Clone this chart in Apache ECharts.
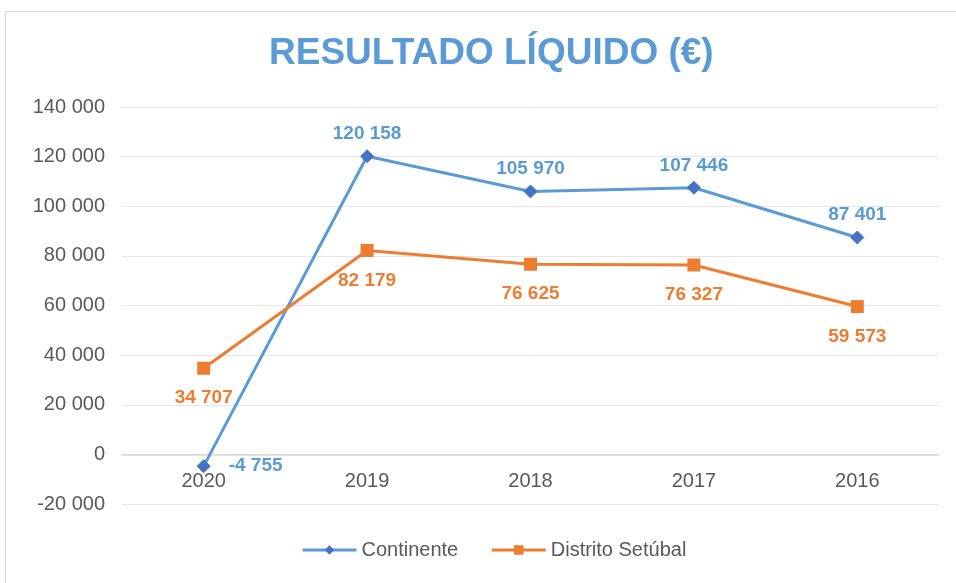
<!DOCTYPE html>
<html>
<head>
<meta charset="utf-8">
<script src="https://cdn.jsdelivr.net/npm/echarts@6/dist/echarts.min.js"></script>
<style>
  html, body { margin: 0; padding: 0; background: #fff; }
  #frame {
    position: absolute; left: 5px; top: 11px; width: 960px; height: 580px;
    border: 1px solid #d9d9d9; box-sizing: border-box;
  }
  #chart { position: absolute; left: 0; top: 0; width: 956px; height: 583px; }
</style>
</head>
<body>
<div id="frame"></div>
<div id="chart"></div>
<script>
var anos = ["2020", "2019", "2018", "2017", "2016"];
var continente = [-4755, 120158, 105970, 107446, 87401];
var setubal = [34707, 82179, 76625, 76327, 59573];

function fmt(v) {
  var s = String(Math.abs(v)).replace(/\B(?=(\d{3})+(?!\d))/g, " ");
  return (v < 0 ? "-" : "") + s;
}

// negative value label sits to the right of its point
var continenteData = continente.map(function (v) {
  return v < 0 ? { value: v, label: { position: "right", distance: 18 } } : v;
});

var chart = echarts.init(document.getElementById("chart"));
var fam = "Liberation Sans, Arial, sans-serif";
var yMin = -20000, yMax = 140000;
var gridTop = 107, gridBottom = 79, plotH = 583 - gridTop - gridBottom;
chart.setOption({
  animation: false,
  title: {
    text: "RESULTADO LÍQUIDO (€)",
    left: 264,
    top: 30,
    textStyle: { color: "#5b9bd5", fontSize: 37, fontWeight: "bold", fontFamily: fam }
  },
  legend: {
    bottom: 18,
    left: 296,
    itemWidth: 54,
    itemHeight: 12,
    itemGap: 32,
    lineStyle: { width: 3 },
    textStyle: { color: "#595959", fontSize: 20, fontFamily: fam },
    data: ["Continente", "Distrito Setúbal"]
  },
  grid: { left: 122, right: 17, top: gridTop, bottom: gridBottom },
  xAxis: {
    type: "category",
    data: anos,
    // axis sits on the zero line
    offset: -plotH * (0 - yMin) / (yMax - yMin),
    axisLine: { onZero: false, lineStyle: { color: "#d9d9d9", width: 1.5 } },
    axisTick: { show: false },
    axisLabel: { color: "#595959", fontSize: 20, fontFamily: fam, margin: 17 }
  },
  yAxis: {
    type: "value",
    min: yMin,
    max: yMax,
    interval: 20000,
    axisLine: { show: false },
    axisTick: { show: false },
    splitLine: { lineStyle: { color: "#e6e6e6" } },
    axisLabel: {
      color: "#595959", fontSize: 20, fontFamily: fam, margin: 17,
      formatter: function (v) { return fmt(v); }
    }
  },
  series: [
    {
      name: "Continente",
      type: "line",
      data: continenteData,
      symbol: "diamond",
      symbolSize: 13,
      lineStyle: { color: "#5b9bd5", width: 3 },
      itemStyle: { color: "#4472c4", borderColor: "#4472c4" },
      label: {
        show: true,
        position: "top",
        distance: 6,
        color: "#5b9bd5",
        fontSize: 19,
        fontWeight: "bold",
        fontFamily: fam,
        formatter: function (p) { return fmt(p.value); }
      }
    },
    {
      name: "Distrito Setúbal",
      type: "line",
      data: setubal,
      symbol: "rect",
      symbolSize: 13,
      lineStyle: { color: "#ed7d31", width: 3 },
      itemStyle: { color: "#ed7d31" },
      label: {
        show: true,
        position: "bottom",
        distance: 14,
        color: "#ed7d31",
        fontSize: 19,
        fontWeight: "bold",
        fontFamily: fam,
        formatter: function (p) { return fmt(p.value); }
      }
    }
  ]
});
</script>
</body>
</html>
